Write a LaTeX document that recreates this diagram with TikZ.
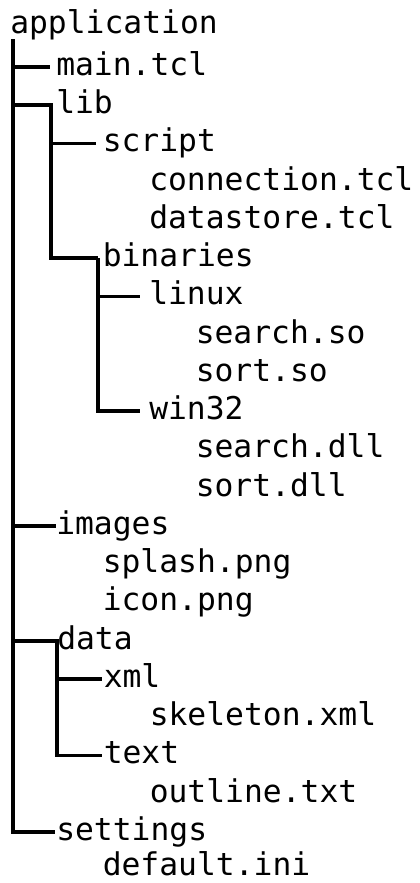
\documentclass[tikz,border=0pt]{standalone}
\usepackage{fontspec}
\newfontfamily\treefont{DejaVu Sans Mono}
\usetikzlibrary{calc}
\begin{document}
\begin{tikzpicture}[x=0.75pt,y=-0.75pt,
  entry/.style={anchor=west, inner sep=0pt, text height=14.9pt, text depth=2.5pt,
    font=\treefont\fontsize{23.5}{28}\selectfont},
  branch/.style={line width=2.8pt, line join=miter, line cap=butt}]
\useasboundingbox (0,0) rectangle (419,883);

% directory entries, one row each
\node[entry] (app)      at (10,25)       {application};
\node[entry] (main)     at (56,67)       {main.tcl};
\node[entry] (lib)      at (56,105.25)   {lib};
\node[entry] (script)   at (102.5,143.5) {script};
\node[entry] (conn)     at (149,181.75)  {connection.tcl};
\node[entry] (store)    at (149,220)     {datastore.tcl};
\node[entry] (bin)      at (102.5,258.25){binaries};
\node[entry] (linux)    at (149,296.5)   {linux};
\node[entry] (searchso) at (195.5,334.75){search.so};
\node[entry] (sortso)   at (195.5,373)   {sort.so};
\node[entry] (win)      at (149,411.25)  {win32};
\node[entry] (searchdl) at (195.5,449.5) {search.dll};
\node[entry] (sortdl)   at (195.5,487.75){sort.dll};
\node[entry] (images)   at (56,526)      {images};
\node[entry] (splash)   at (102.5,564.25){splash.png};
\node[entry] (icon)     at (102.5,602.5) {icon.png};
\node[entry] (data)     at (57,640.75)   {data};
\node[entry] (xml)      at (103.5,679)   {xml};
\node[entry] (skel)     at (149.5,717.25){skeleton.xml};
\node[entry] (txt)      at (103.5,755.5) {text};
\node[entry] (outline)  at (149.5,793.75){outline.txt};
\node[entry] (settings) at (56,832)      {settings};
\node[entry] (ini)      at (102.5,867)   {default.ini};

% root trunk
\coordinate (rt) at (13.3,39);
\draw[branch] (rt) |- ($(settings.west)+(-1,0)$);
\draw[branch] (rt |- main.west) -- ($(main.west)+(-6,0)$);
\draw[branch] (rt |- images.west) -- (images.west);

% lib subtree
\coordinate (libk) at ($(lib.west)+(-5,0)$);
\draw[branch] (rt |- lib.west) -- (libk) |- ($(bin.west)+(-4.5,0)$);
\draw[branch] (libk |- script.west) -- ($(script.west)+(-6.5,0)$);

% binaries subtree
\coordinate (bink) at ($(bin.west)+(-4.5,0)$);
\draw[branch] (bink) |- ($(win.west)+(-9,0)$);
\draw[branch] (bink |- linux.west) -- ($(linux.west)+(-9,0)$);

% data subtree
\coordinate (datak) at (data.west);
\draw[branch] (rt |- data.west) -- (datak) |- ($(txt.west)+(-1.5,0)$);
\draw[branch] (datak |- xml.west) -- ($(xml.west)+(-1.5,0)$);
\end{tikzpicture}
\end{document}
